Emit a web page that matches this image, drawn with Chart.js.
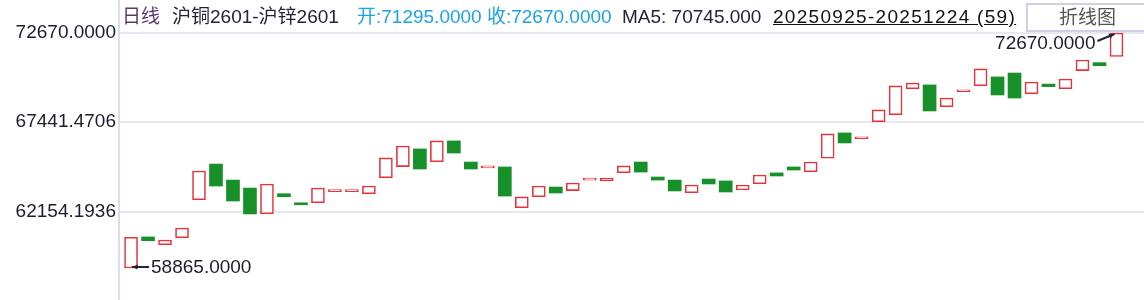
<!DOCTYPE html>
<html>
<head>
<meta charset="utf-8">
<script src="https://cdn.jsdelivr.net/npm/chart.js@4/dist/chart.umd.min.js"></script>
<style>
    html, body { margin: 0; padding: 0; background: #fff; }
    #wrap { position: relative; width: 1144px; height: 300px; overflow: hidden; font-family: "Liberation Sans", Arial, "Noto Sans CJK SC", sans-serif; }
    #chart { position: absolute; left: 0; top: 0; }
    .hd { position: absolute; top: 6px; font-size: 19px; line-height: 22px; white-space: nowrap; }
    .kind { left: 122px; color: #5a3a6e; }
    .name { left: 172px; color: #23233a; }
    .oc { left: 357px; color: #1ba3e6; }
    .ma { left: 622px; color: #23233a; }
    .range { left: 773px; color: #111; text-decoration: underline; letter-spacing: 1.3px; }
    .btn { position: absolute; left: 1026px; top: 3px; width: 130px; height: 29px; border: 2px solid #cfd0e6; box-sizing: border-box; background: #fff; }
    .btn span { position: absolute; left: 31px; top: 2px; font-size: 19px; line-height: 22px; color: #555; }
</style>
</head>
<body>
<div id="wrap">
    <canvas id="chart" width="1144" height="300"></canvas>
    <div class="hd kind">日线</div>
    <div class="hd name">沪铜2601-沪锌2601</div>
    <div class="hd oc">开:71295.0000 收:72670.0000</div>
    <div class="hd ma">MA5: 70745.000</div>
    <div class="hd range">20250925-20251224 (59)</div>
    <div class="btn"><span>折线图</span></div>
</div>
<script>
const dates = [
    "20250925", "20250926", "20250929", "20250930", "20251009", "20251010", "20251013", "20251014",
    "20251015", "20251016", "20251017", "20251020", "20251021", "20251022", "20251023", "20251024",
    "20251027", "20251028", "20251029", "20251030", "20251031", "20251103", "20251104", "20251105",
    "20251106", "20251107", "20251110", "20251111", "20251112", "20251113", "20251114", "20251117",
    "20251118", "20251119", "20251120", "20251121", "20251124", "20251125", "20251126", "20251127",
    "20251128", "20251201", "20251202", "20251203", "20251204", "20251205", "20251208", "20251209",
    "20251210", "20251211", "20251212", "20251215", "20251216", "20251217", "20251218", "20251219",
    "20251222", "20251223", "20251224"
];

const opens = [
    58865, 60690, 60230, 60640, 62880, 64970, 64030, 63560, 62050, 63230,
    62620, 62700, 63350, 63350, 63230, 64170, 64820, 65860, 65110, 66330,
    65090, 64750, 64800, 62410, 63050, 63620, 63410, 64030, 63980, 64460,
    65090, 64210, 64030, 63290, 64090, 63980, 63450, 63820, 64450, 64800,
    64520, 65310, 66800, 66460, 67460, 67870, 69400, 69620, 68340, 69220,
    69570, 70090, 70320, 69100, 69670, 69400, 70460, 70930, 71295
];

const closes = [
    60670, 60470, 60510, 61210, 64560, 63680, 62800, 62040, 63800, 63050,
    62580, 63560, 63390, 63390, 63680, 65330, 66030, 64680, 66330, 65620,
    64680, 64860, 63090, 63040, 63680, 63270, 63860, 64090, 64150, 64860,
    64500, 64030, 63390, 63740, 63800, 63330, 63740, 64330, 64270, 64620,
    65090, 66740, 66210, 66500, 68150, 69560, 69730, 68090, 68850, 69260,
    70560, 69030, 68850, 69790, 69520, 69970, 71080, 70750, 72670
];

const yTicks = [62154.1936, 67441.4706, 72670];

const UP = "#e5323b";
const DOWN = "#18902a";
const TEXT = "#1c1c2e";

// axis window picked so the ticks land where the reference has them
const Y_MIN = 56984.6;
const Y_MAX = 74608.7;

const candles = dates.map((d, i) => ({ x: i, y: [opens[i], closes[i]] }));

const isUp = i => closes[i] >= opens[i];

function arrow(ctx, x1, y1, x2, y2) {
    const a = Math.atan2(y2 - y1, x2 - x1);
    ctx.beginPath();
    ctx.moveTo(x1, y1);
    ctx.lineTo(x2, y2);
    ctx.stroke();
    ctx.beginPath();
    ctx.moveTo(x2, y2);
    ctx.lineTo(x2 - 6 * Math.cos(a - 0.45), y2 - 6 * Math.sin(a - 0.45));
    ctx.lineTo(x2 - 6 * Math.cos(a + 0.45), y2 - 6 * Math.sin(a + 0.45));
    ctx.closePath();
    ctx.fill();
}

const extremes = {
    id: "extremes",
    afterDatasetsDraw(chart) {
        const { ctx, scales } = chart;
        const all = opens.concat(closes);
        const lo = Math.min(...all);
        const hi = Math.max(...all);
        const loIdx = all.indexOf(lo) % opens.length;
        const hiIdx = all.indexOf(hi) % opens.length;

        ctx.save();
        ctx.strokeStyle = "#23233a";
        ctx.fillStyle = "#23233a";
        ctx.lineWidth = 2;
        ctx.font = '19px "Liberation Sans", Arial, sans-serif';
        ctx.textBaseline = "middle";

        const lx = scales.x.getPixelForValue(loIdx);
        const ly = scales.y.getPixelForValue(lo) - 1;
        arrow(ctx, lx + 18, ly, lx + 1, ly);
        ctx.fillStyle = TEXT;
        ctx.textAlign = "left";
        ctx.fillText(lo.toFixed(4), lx + 20, ly + 1);

        const hx = scales.x.getPixelForValue(hiIdx);
        const hy = scales.y.getPixelForValue(hi);
        ctx.fillStyle = "#23233a";
        arrow(ctx, hx - 19, hy + 8, hx - 2, hy + 1);
        ctx.fillStyle = TEXT;
        ctx.textAlign = "right";
        ctx.fillText(hi.toFixed(4), hx - 21, hy + 11);
        ctx.restore();
    }
};

const axisLine = {
    id: "axisLine",
    beforeDatasetsDraw(chart) {
        const { ctx, chartArea } = chart;
        ctx.save();
        ctx.strokeStyle = "#dcdcee";
        ctx.lineWidth = 2;
        ctx.beginPath();
        ctx.moveTo(chartArea.left - 1, 0);
        ctx.lineTo(chartArea.left - 1, 300);
        ctx.stroke();
        ctx.restore();
    }
};

new Chart(document.getElementById("chart"), {
    type: "bar",
    data: {
        datasets: [{
            data: candles,
            barThickness: 13,
            minBarLength: 2,
            borderSkipped: false,
            borderWidth: ctx => isUp(ctx.dataIndex) ? 1.6 : 0,
            borderColor: ctx => isUp(ctx.dataIndex) ? UP : DOWN,
            backgroundColor: ctx => isUp(ctx.dataIndex) ? "#ffffff" : DOWN
        }]
    },
    options: {
        responsive: false,
        animation: false,
        layout: { padding: 0 },
        plugins: {
            legend: { display: false },
            tooltip: {
                callbacks: {
                    title: items => dates[items[0].dataIndex],
                    label: item => "开:" + opens[item.dataIndex] + " 收:" + closes[item.dataIndex]
                }
            }
        },
        scales: {
            x: {
                type: "linear",
                display: false,
                offset: false,
                min: -0.65,
                max: 59.62
            },
            y: {
                min: Y_MIN,
                max: Y_MAX,
                afterBuildTicks: axis => { axis.ticks = yTicks.map(v => ({ value: v })); },
                afterFit: axis => {
                    axis.width = 120;
                    axis.paddingTop = 0;
                    axis.paddingBottom = 0;
                },
                border: { display: false },
                grid: { color: "#e7e7f1", lineWidth: 2, drawTicks: false },
                ticks: {
                    padding: 4,
                    color: TEXT,
                    font: { family: '"Liberation Sans", Arial, sans-serif', size: 19 },
                    callback: v => Number(v).toFixed(4)
                }
            }
        }
    },
    plugins: [axisLine, extremes]
});
</script>
</body>
</html>
